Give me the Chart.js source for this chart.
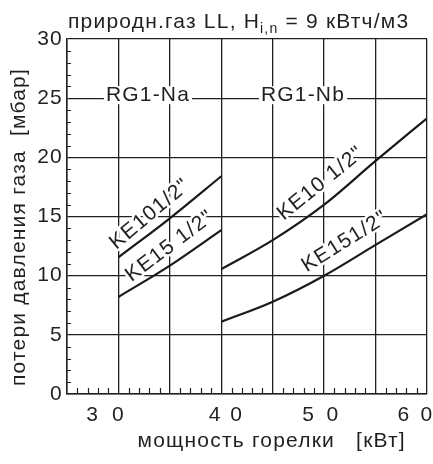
<!DOCTYPE html>
<html><head><meta charset="utf-8">
<script src="https://cdn.jsdelivr.net/npm/chart.js@4.4.0/dist/chart.umd.min.js"></script>
<style>html,body{margin:0;padding:0;background:#fff;}canvas{display:block;}</style>
</head><body>
<canvas id="c" width="433" height="464"></canvas>
<script>
const FONT = '"Liberation Sans", Arial, Helvetica, sans-serif';
const INK = '#231f20';
const LS = '1.2px';

// burner power, expressed in grid positions of the original chart
const naPower = [1, 2, 3];
const ke10NaLoss = [11.55, 14.85, 18.4];
const ke15NaLoss = [8.2, 10.85, 13.85];
const nbPower = [3, 4, 5, 6, 7];
const ke10NbLoss = [10.55, 13.0, 16.0, 19.7, 23.3];
const ke15NbLoss = [6.1, 7.8, 10.0, 12.6, 15.2];

const xTickLabels = ['3', '0', '4', '0', '5', '0', '6', '0'];
const xTickValues = [0.5, 1, 2.88, 3.3, 4.7, 5.17, 6.55, 7];
const xGridValues = [0, 1, 2, 3, 4, 5, 6, 7];

const seriesNames = ['KE101/2"', 'KE15 1/2"', 'KE10 1/2"', 'KE151/2"'];
const regionNames = ['RG1-Na', 'RG1-Nb'];

const titleMain = 'природн.газ LL, H';
const titleSub = 'i,n';
const titleTail = ' = 9 кВтч/м3';
const yTitle = 'потери давления газа  [мбар]   ';
const xTitle = 'мощность горелки   [кВт]   ';

// label placement (data units) and angles
const curveLabelPlace = [
  {x: 1.614, y: 15.2, a: -40},
  {x: 2.0, y: 12.5, a: -37},
  {x: 4.935, y: 17.8, a: -39},
  {x: 5.405, y: 12.87, a: -32}
];
const regionLabelPlace = [{x: 1.575, y: 25}, {x: 4.589, y: 25}];

const pts = (xs, ys) => xs.map((v, i) => ({x: v, y: ys[i]}));

const decor = {
  id: 'decor',
  beforeDraw(chart) { chart.ctx.letterSpacing = LS; },
  beforeDatasetsDraw(chart) {
    const {ctx, chartArea: a, scales: {x, y}} = chart;
    ctx.save();
    ctx.letterSpacing = LS;
    ctx.strokeStyle = INK;
    ctx.lineWidth = 1.2;
    ctx.beginPath();
    for (let v = 0; v < 7; v++) {
      for (let k = 1; k < 5; k++) {
        const px = Math.round(x.getPixelForValue(v + k * 0.2)) + 0.5;
        ctx.moveTo(px, a.bottom);
        ctx.lineTo(px, a.bottom - 6);
      }
    }
    for (let v = 1; v < 30; v++) {
      if (v % 5 === 0) continue;
      const py = Math.round(y.getPixelForValue(v)) + 0.5;
      ctx.moveTo(a.left, py);
      ctx.lineTo(a.left + 4, py);
    }
    ctx.stroke();

    ctx.font = '21px ' + FONT;
    ctx.textAlign = 'center';
    ctx.textBaseline = 'middle';
    regionNames.forEach((t, i) => {
      const p = regionLabelPlace[i];
      const cx = x.getPixelForValue(p.x);
      const cy = y.getPixelForValue(p.y) - 3;
      const w = ctx.measureText(t).width;
      ctx.fillStyle = '#fff';
      ctx.fillRect(cx - w / 2 - 2, cy - 9, w + 4, 18);
      ctx.fillStyle = INK;
      ctx.fillText(t, cx, cy);
    });

    seriesNames.forEach((t, i) => {
      const p = curveLabelPlace[i];
      ctx.save();
      ctx.translate(x.getPixelForValue(p.x), y.getPixelForValue(p.y));
      ctx.rotate(p.a * Math.PI / 180);
      ctx.lineJoin = 'round';
      ctx.strokeStyle = '#fff';
      ctx.lineWidth = 5;
      ctx.strokeText(t, 0, 0);
      ctx.fillStyle = INK;
      ctx.fillText(t, 0, 0);
      ctx.restore();
    });
    ctx.restore();
  },
  afterDraw(chart) {
    const ctx = chart.ctx;
    ctx.save();
    ctx.letterSpacing = LS;
    ctx.fillStyle = INK;
    ctx.textAlign = 'left';
    ctx.textBaseline = 'alphabetic';
    let x0 = 68;
    ctx.font = '21px ' + FONT;
    ctx.fillText(titleMain, x0, 28);
    x0 += ctx.measureText(titleMain).width;
    ctx.font = '14px ' + FONT;
    ctx.fillText(titleSub, x0, 33);
    x0 += ctx.measureText(titleSub).width;
    ctx.font = '21px ' + FONT;
    ctx.fillText(titleTail, x0, 28);
    ctx.restore();
  }
};

const lineStyle = {
  borderColor: '#1a1a1a', borderWidth: 2.2, pointRadius: 0, fill: false,
  cubicInterpolationMode: 'monotone'
};

new Chart(document.getElementById('c'), {
  type: 'line',
  data: {
    datasets: [
      {label: seriesNames[0] + ' RG1-Na', data: pts(naPower, ke10NaLoss), ...lineStyle},
      {label: seriesNames[1] + ' RG1-Na', data: pts(naPower, ke15NaLoss), ...lineStyle},
      {label: seriesNames[2] + ' RG1-Nb', data: pts(nbPower, ke10NbLoss), ...lineStyle},
      {label: seriesNames[3] + ' RG1-Nb', data: pts(nbPower, ke15NbLoss), ...lineStyle}
    ]
  },
  options: {
    responsive: false,
    animation: false,
    events: [],
    layout: {padding: {top: 39, right: 6, left: 0, bottom: 0}},
    plugins: {legend: {display: false}, tooltip: {enabled: false}, title: {display: false}},
    scales: {
      x: {
        type: 'linear', min: 0, max: 7,
        afterBuildTicks(s) {
          const vals = new Set([...xGridValues, ...xTickValues]);
          s.ticks = [...vals].sort((p, q) => p - q).map(v => ({value: v}));
        },
        afterFit(s) { s.height = 70; s.paddingLeft = 0; s.paddingRight = 0; },
        ticks: {
          autoSkip: false, maxRotation: 0, padding: 9, color: INK,
          font: {family: FONT, size: 21},
          callback: v => { const i = xTickValues.indexOf(v); return i >= 0 ? xTickLabels[i] : ''; }
        },
        grid: {
          drawTicks: false, lineWidth: 1.3,
          color: c => (c.tick && xGridValues.includes(c.tick.value)) ? INK : 'rgba(0,0,0,0)'
        },
        border: {display: true, color: INK, width: 1.5},
        title: {display: true, text: xTitle, align: 'end', color: INK,
                font: {family: FONT, size: 21}, padding: {top: 0, bottom: 10}}
      },
      y: {
        type: 'linear', min: 0, max: 30,
        afterFit(s) { s.width = 67; s.paddingTop = 0; s.paddingBottom = 0; },
        ticks: {stepSize: 5, padding: 4, color: INK, font: {family: FONT, size: 21}},
        grid: {drawTicks: false, lineWidth: 1.3, color: INK},
        border: {display: true, color: INK, width: 1.5},
        title: {display: true, text: yTitle, color: INK,
                font: {family: FONT, size: 21}, padding: {top: 7, bottom: 0}}
      }
    }
  },
  plugins: [decor]
});
</script>
</body></html>
